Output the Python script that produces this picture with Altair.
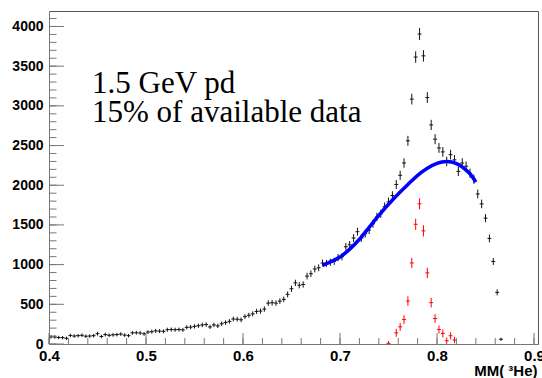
import altair as alt
import pandas as pd
import numpy as np

# ---- data ----
BIN_START = 0.402
BIN_W = 0.004
black_counts = [
    90, 88, 82, 80, 72, 108, 100, 105, 110, 98,
    100, 105, 130, 95, 118, 110, 115, 118, 125, 112,
    105, 140, 142, 138, 128, 150, 155, 165, 162, 160,
    180, 182, 180, 182, 178, 210, 212, 222, 230, 240,
    245, 215, 240, 228, 255, 270, 285, 315, 312, 305,
    345, 362, 380, 410, 415, 440, 515, 520, 515, 540,
    562, 625, 696, 770, 740, 750, 855, 885, 945, 960,
    1020, 1016, 1030, 1041, 1090, 1100, 1225, 1250, 1335, 1415,
    1335, 1390, 1435, 1515, 1600, 1640, 1730, 1790, 1870, 2010,
    2125, 2280, 2560, 3085, 3615, 3905, 3630, 3105, 2760, 2580,
    2470, 2420, 2300, 2385, 2320, 2175, 2280, 2240, 2150, 2075,
    1890, 1765, 1585, 1330, 1040, 650, 60,
]
RED_START = 0.750
red_counts = [8, 0, 141, 216, 308, 541, 1021, 1508, 1766, 1425, 896, 521, 321, 183, 133, 41, 104, 50]
red_err = [30, 0, 50, 50, 55, 60, 65, 70, 70, 70, 65, 60, 55, 50, 50, 40, 45, 40]

fit_x = [0.682, 0.690, 0.700, 0.710, 0.720, 0.730, 0.740, 0.750, 0.760, 0.770, 0.780,
         0.790, 0.800, 0.805, 0.810, 0.815, 0.820, 0.825, 0.830, 0.835, 0.840]
fit_y = [990, 1035, 1095, 1195, 1320, 1470, 1620, 1760, 1890, 2010, 2125,
         2215, 2275, 2293, 2298, 2292, 2272, 2240, 2190, 2130, 2040]

x_major = [0.4, 0.5, 0.6, 0.7, 0.8, 0.9]
x_minor = [round(0.4 + 0.02 * i, 3) for i in range(26)]
y_major = [0, 500, 1000, 1500, 2000, 2500, 3000, 3500, 4000]
y_minor = list(range(0, 4200, 100))
text_lines = ["1.5 GeV pd", "15% of available data"]
x_title = "MM( \u00b3He)"

# ---- tables ----
black = pd.DataFrame({
    "x": [round(BIN_START + BIN_W * i, 4) for i in range(len(black_counts))],
    "n": black_counts,
})
black["err"] = np.sqrt(black["n"]) + 12
black["lo"] = (black["n"] - black["err"]).clip(lower=0)
black["hi"] = black["n"] + black["err"]
black["xl"] = black["x"] - BIN_W / 2
black["xr"] = black["x"] + BIN_W / 2

red = pd.DataFrame({
    "x": [round(RED_START + BIN_W * i, 4) for i in range(len(red_counts))],
    "n": red_counts,
    "err": red_err,
})
red = red[red["n"] > 0].copy()
red["lo"] = (red["n"] - red["err"]).clip(lower=0)
red["hi"] = red["n"] + red["err"]
red["xl"] = red["x"] - BIN_W / 2
red["xr"] = red["x"] + BIN_W / 2

fit = pd.DataFrame({"x": fit_x, "y": fit_y})

W, H = 489, 333
XS = alt.Scale(domain=[0.4, 0.9041], nice=False, zero=False)
YS = alt.Scale(domain=[0, 4195], nice=False, zero=True)

FONT = "Liberation Sans"
xaxis = alt.Axis(values=x_major, format=".1f", ticks=False, grid=False,
                 domainColor="#777", domainWidth=1, labelFont=FONT, labelFontWeight="bold",
                 labelFontSize=15, labelColor="#000", labelPadding=4, labelFlush=False,
                 title=x_title, titleFont=FONT, titleFontWeight="bold", titleFontSize=15,
                 titleColor="#000", titleAnchor="end", titleAlign="right", titleX=W - 1,
                 titleY=31, titleBaseline="alphabetic")
yaxis = alt.Axis(values=y_major, format="d", ticks=False, grid=False,
                 domainColor="#777", domainWidth=1, labelFont=FONT, labelFontWeight="bold",
                 labelFontSize=14, labelColor="#000", labelPadding=6, labelFlush=False,
                 labelOverlap=False, title=None)


def X(field):
    return alt.X(field, scale=XS, axis=xaxis)


def Y(field):
    return alt.Y(field, scale=YS, axis=yaxis)


b_v = alt.Chart(black).mark_rule(color="#111", strokeWidth=1).encode(
    x=X("x:Q"), y=Y("lo:Q"), y2="hi:Q")
b_h = alt.Chart(black).mark_rule(color="#111", strokeWidth=1).encode(
    x=X("xl:Q"), x2="xr:Q", y=Y("n:Q"))
r_v = alt.Chart(red).mark_rule(color="#ff0000", strokeWidth=1).encode(
    x=X("x:Q"), y=Y("lo:Q"), y2="hi:Q")
r_h = alt.Chart(red).mark_rule(color="#ff0000", strokeWidth=1).encode(
    x=X("xl:Q"), x2="xr:Q", y=Y("n:Q"))
fit_line = alt.Chart(fit).mark_line(color="#0000ff", strokeWidth=3.5, interpolate="monotone").encode(
    x=X("x:Q"), y=Y("y:Q"))

tick_col = "#777"
ymaj = alt.Chart(pd.DataFrame({"v": y_major})).mark_rule(color=tick_col, strokeWidth=1).encode(
    y=Y("v:Q"), x=alt.value(0), x2=alt.value(15))
ymin = alt.Chart(pd.DataFrame({"v": y_minor})).mark_rule(color=tick_col, strokeWidth=1).encode(
    y=Y("v:Q"), x=alt.value(0), x2=alt.value(7.5))
xmaj = alt.Chart(pd.DataFrame({"v": x_major})).mark_rule(color=tick_col, strokeWidth=1).encode(
    x=X("v:Q"), y=alt.value(H), y2=alt.value(H - 11))
xmin = alt.Chart(pd.DataFrame({"v": x_minor})).mark_rule(color=tick_col, strokeWidth=1).encode(
    x=X("v:Q"), y=alt.value(H), y2=alt.value(H - 6))

txt1 = alt.Chart(pd.DataFrame({"t": [text_lines[0]]})).mark_text(
    font="Liberation Serif", fontSize=31, align="left", baseline="alphabetic", color="#000"
).encode(text="t:N", x=alt.value(43), y=alt.value(82))
txt2 = alt.Chart(pd.DataFrame({"t": [text_lines[1]]})).mark_text(
    font="Liberation Serif", fontSize=31, align="left", baseline="alphabetic", color="#000"
).encode(text="t:N", x=alt.value(43), y=alt.value(111))

chart = alt.layer(
    b_v, b_h, r_v, r_h, fit_line, ymin, ymaj, xmin, xmaj, txt1, txt2
).properties(
    width=W, height=H,
    autosize=alt.AutoSizeParams(type="none"),
    padding={"left": 49, "top": 11, "right": 4, "bottom": 34},
    background="white",
).configure_view(stroke="#555", strokeWidth=1)

chart.save("out.html", embed_options={"renderer": "svg", "actions": False})
